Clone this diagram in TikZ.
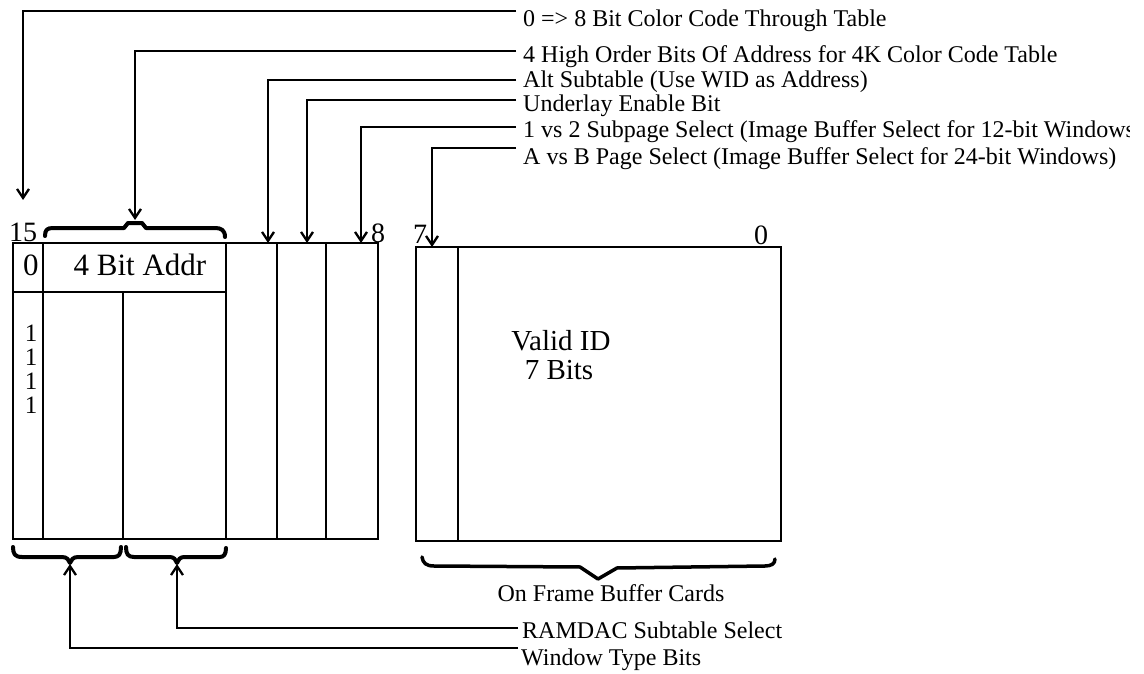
\documentclass[tikz,border=0pt]{standalone}
\usepackage{fontspec}
\setmainfont{Liberation Serif}
\usetikzlibrary{arrows.meta}
\begin{document}
\begin{tikzpicture}[x=1pt,y=-1pt,
  conn/.style={line width=2.3pt, -{Straight Barb[length=9pt,width=12pt,line width=2.3pt]}},
  boxline/.style={line width=2.3pt},
  bracestyle/.style={line width=4pt, line cap=round, line join=round},
  lbl/.style={anchor=base west, inner sep=0pt, font=\fontsize{24}{24}\selectfont},
  big/.style={inner sep=0pt, font=\fontsize{31}{31}\selectfont},
  mid/.style={inner sep=0pt, anchor=base, text height=19pt, text depth=0pt, font=\fontsize{29}{29}\selectfont},
  small/.style={inner sep=0pt, text height=16pt, text depth=0pt, font=\fontsize{25}{25}\selectfont},
  bitno/.style={anchor=base west, inner sep=0pt, font=\fontsize{28}{28}\selectfont},
]
\useasboundingbox (0,0) rectangle (1144,674);

% ---- register box (bits 15..8)
\draw[boxline] (13,243) rectangle (378,539);
\draw[boxline] (43,243) -- (43,539);
\draw[boxline] (226,243) -- (226,539);
\draw[boxline] (277,243) -- (277,539);
\draw[boxline] (326,243) -- (326,539);
\draw[boxline] (13,292) -- (226,292);
\draw[boxline] (123,292) -- (123,539);

% ---- register box (bits 7..0)
\draw[boxline] (416,247) rectangle (781,541);
\draw[boxline] (458,247) -- (458,541);

% ---- texts inside
\node[big] (zero) at (31,265) {0};
\node[big] (addr) at (140,265) {4 Bit Addr};
\node[small] (one1) at (31,333) {1};
\node[small] (one2) at (31,357) {1};
\node[small] (one3) at (31,381) {1};
\node[small] (one4) at (31,405) {1};
\node[mid] (vid) at (561,350) {Valid ID};
\node[mid] (vbits) at (559,379) {7 Bits};

% ---- bit numbers
\node[bitno] (b15) at (9,241) {15};
\node[bitno] (b8) at (371,242) {8};
\node[bitno] (b7) at (413,243) {7};
\node[bitno] (b0) at (754,244) {0};

% ---- braces
\draw[bracestyle] (45,236) .. controls (45,230) and (47,228) .. (53,228) -- (124,228) -- (128,223) -- (142,223) -- (146,228) -- (215,228) .. controls (221,228) and (225,230) .. (225,237);
\draw[bracestyle] (13,547) .. controls (13,554) and (15,557) .. (22,557) -- (62,557) .. controls (67,557) and (69,560) .. (70,563) .. controls (71,560) and (73,557) .. (78,557) -- (114,557) .. controls (119,557) and (121,554) .. (121,547);
\draw[bracestyle] (126,547) .. controls (126,554) and (128,557) .. (134,557) -- (170,557) .. controls (174,557) and (176,560) .. (177,563) .. controls (178,560) and (180,557) .. (184,557) -- (220,557) .. controls (224,557) and (226,554) .. (226,548);
\draw[bracestyle, line width=3.5pt] (422,557) .. controls (423,563) and (426,566) .. (434,566) -- (580,567) -- (598,579) -- (617,568) -- (765,566) .. controls (771,566) and (775,564) .. (775,559);

% ---- labels
\node[lbl] (l1) at (523,27) {0 => 8 Bit Color Code Through Table};
\node[lbl] (l2) at (523,63) {4 High Order Bits Of Address for 4K Color Code Table};
\node[lbl] (l3) at (523,88) {Alt Subtable (Use WID as Address)};
\node[lbl] (l4) at (523,112) {Underlay Enable Bit};
\begin{scope}
\clip (500,114) rectangle (1129,146);
\node[lbl] (l5) at (523,138) {1 vs 2 Subpage Select (Image Buffer Select for 12-bit Windows};
\end{scope}
\node[lbl] (l6) at (523,165) {A vs B Page Select (Image Buffer Select for 24-bit Windows)};
\node[lbl, anchor=base] (fb) at (611,601) {On Frame Buffer Cards};
\node[lbl] (l7) at (522,638) {RAMDAC Subtable Select};
\node[lbl] (l8) at (521,665) {Window Type Bits};

% ---- connector ends
\coordinate (s1) at (516,11);
\coordinate (s2) at (516,51);
\coordinate (s3) at (516,80);
\coordinate (s4) at (516,100);
\coordinate (s5) at (516,127);
\coordinate (s6) at (516,148);
\coordinate (t1) at (23,200);
\coordinate (t2) at (135,220);
\coordinate (t3) at (268,243);
\coordinate (t4) at (307,243);
\coordinate (t5) at (361,243);
\coordinate (t6) at (432,247);
\coordinate (s7) at (518,628);
\coordinate (s8) at (518,648);
\coordinate (t7) at (177,564);
\coordinate (t8) at (70,564);

\draw[conn] (s1) -| (t1);
\draw[conn] (s2) -| (t2);
\draw[conn] (s3) -| (t3);
\draw[conn] (s4) -| (t4);
\draw[conn] (s5) -| (t5);
\draw[conn] (s6) -| (t6);
\draw[conn] (s7) -| (t7);
\draw[conn] (s8) -| (t8);
\end{tikzpicture}
\end{document}
